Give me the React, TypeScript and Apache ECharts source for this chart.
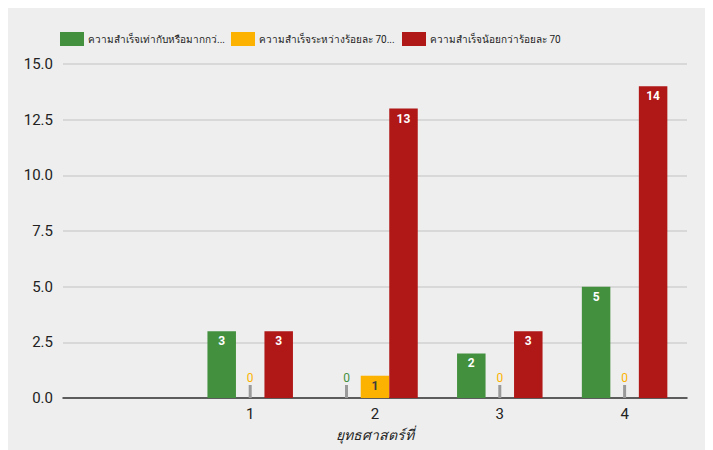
import React, { useEffect, useRef } from "react";
import * as echarts from "echarts";

const categories = ["", "1", "2", "3", "4"];
const seriesNames = [
  "ความสำเร็จเท่ากับหรือมากกว่...",
  "ความสำเร็จระหว่างร้อยละ 70...",
  "ความสำเร็จน้อยกว่าร้อยละ 70",
];
const greenValues = [null, 3, 0, 2, 5];
const yellowValues = [null, 0, 1, 0, 0];
const redValues = [null, 3, 13, 3, 14];
const yTicks = [0, 2.5, 5, 7.5, 10, 12.5, 15];
const xAxisTitle = "ยุทธศาสตร์ที่";

const colors = ["#43903e", "#fbb200", "#b01717"];
const labelColors = ["#ffffff", "#3d3d3d", "#ffffff"];
const BAR_W = 28.5;

export default function App() {
  const ref = useRef<HTMLDivElement>(null);
  useEffect(() => {
    if (!ref.current) return;
    const chart = echarts.init(ref.current, null, { renderer: "svg" });
    const allValues = [greenValues, yellowValues, redValues];
    const zeroPoints: number[][] = [];
    allValues.forEach((vals, si) =>
      vals.forEach((v, ci) => {
        if (v === 0) zeroPoints.push([ci, si]);
      })
    );
    const legendLefts = [52, 223, 394];
    const font = "Roboto, 'Noto Sans', sans-serif";
    chart.setOption({
      animation: false,
      backgroundColor: "#eeeeee",
      textStyle: { fontFamily: font },
      legend: seriesNames.map((n, i) => ({
        data: [n],
        left: legendLefts[i],
        top: 24,
        padding: 0,
        itemWidth: 24,
        itemHeight: 14,
        itemGap: 4,
        icon: "rect",
        selectedMode: false,
        textStyle: { fontSize: 10, color: "#222", fontFamily: font, padding: [0, 0, 0, -1] },
      })),
      grid: { left: 55, right: 26, top: 56, bottom: 52 },
      xAxis: {
        type: "category",
        data: categories,
        axisTick: { show: false },
        axisLine: { lineStyle: { color: "#333", width: 1.5 } },
        axisLabel: { fontSize: 15, color: "#222", margin: 8 },
        name: xAxisTitle,
        nameLocation: "middle",
        nameGap: 30,
        nameTextStyle: { fontSize: 14, fontStyle: "italic", color: "#222" },
      },
      yAxis: {
        type: "value",
        min: yTicks[0],
        max: yTicks[yTicks.length - 1],
        interval: 2.5,
        axisLine: { show: false },
        axisTick: { show: false },
        axisLabel: {
          fontSize: 15,
          color: "#222",
          margin: 10,
          formatter: (v: number) => v.toFixed(1),
        },
        splitLine: { lineStyle: { color: "#d0d0d0", width: 1.5 } },
      },
      series: [
        ...allValues.map((vals, si) => ({
          type: "bar",
          name: seriesNames[si],
          data: vals,
          barWidth: BAR_W,
          barGap: "0%",
          itemStyle: { color: colors[si] },
          label: {
            show: true,
            position: "insideTop",
            distance: 4,
            color: labelColors[si],
            fontSize: 12,
            fontWeight: "bold",
            formatter: (p: any) => (p.value ? String(p.value) : ""),
          },
        })),
        {
          type: "custom",
          data: zeroPoints,
          silent: true,
          z: 5,
          renderItem: (params: any, api: any) => {
            const ci = api.value(0);
            const si = api.value(1);
            const p = api.coord([ci, 0]);
            const cx = p[0] + (si - 1) * BAR_W;
            return {
              type: "group",
              children: [
                {
                  type: "rect",
                  shape: { x: cx - 1.5, y: p[1] - 13, width: 3, height: 13 },
                  style: { fill: "#9a9a9a" },
                },
                {
                  type: "text",
                  x: cx,
                  y: p[1] - 14,
                  style: {
                    text: "0",
                    fill: colors[si],
                    fontSize: 12,
                    fontFamily: font,
                    align: "center",
                    verticalAlign: "bottom",
                  },
                },
              ],
            };
          },
        },
      ],
    });
    return () => chart.dispose();
  }, []);
  return <div ref={ref} style={{ width: 705, height: 442 }} />;
}
